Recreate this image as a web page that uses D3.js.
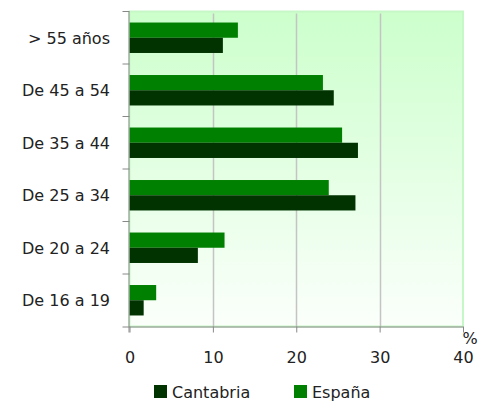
<!DOCTYPE html>
<html>
<head>
<meta charset="utf-8">
<script src="https://cdn.jsdelivr.net/npm/d3@7"></script>
<style>
  body { margin: 0; background: #fff; }
  text { font-family: "DejaVu Sans", sans-serif; fill: #222; }
</style>
</head>
<body>
<div class="container"></div>
<script>
var categories = ['> 55 años', 'De 45 a 54', 'De 35 a 44', 'De 25 a 34', 'De 20 a 24', 'De 16 a 19'];
var seriesNames = ['España', 'Cantabria'];
var espana = [13.0, 23.2, 25.5, 23.9, 11.4, 3.2];
var cantabria = [11.2, 24.5, 27.4, 27.1, 8.2, 1.7];
var xTicks = [0, 10, 20, 30, 40];

const WIDTH = 486;
const HEIGHT = 401;
const LEFT = 129.5;
const RIGHT = 463;
const TOP = 11.5;
const BOTTOM = 326.5;

var colors = { 'España': '#008000', 'Cantabria': '#003300' };

var svg = d3.select('.container').append('svg')
  .attr('width', WIDTH)
  .attr('height', HEIGHT);

var xScale = d3.scaleLinear().domain([0, 40]).range([LEFT, RIGHT]);
var yScale = d3.scaleBand().domain(categories).range([TOP, BOTTOM]).paddingInner(0.42).paddingOuter(0.21);
var inner = d3.scaleBand().domain(seriesNames).range([0, yScale.bandwidth()]);
var step = yScale.step();

// background gradient
var grad = svg.append('defs').append('linearGradient')
  .attr('id', 'bg').attr('x1', 0).attr('y1', 0).attr('x2', 0).attr('y2', 1);
grad.append('stop').attr('offset', '0%').attr('stop-color', '#ccffcc');
grad.append('stop').attr('offset', '100%').attr('stop-color', '#fbfffb');

svg.append('rect')
  .attr('x', LEFT).attr('y', TOP)
  .attr('width', RIGHT - LEFT).attr('height', BOTTOM - TOP)
  .attr('fill', 'url(#bg)')
  .attr('stroke', '#c6f7c6')
  .attr('stroke-width', 2);

// gridlines
svg.append('g').selectAll('line')
  .data(xTicks.filter(function (t) { return t > 0 && t < 40; }))
  .enter().append('line')
  .attr('x1', function (d) { return Math.round(xScale(d)) + 0.5; })
  .attr('x2', function (d) { return Math.round(xScale(d)) + 0.5; })
  .attr('y1', TOP + 2)
  .attr('y2', BOTTOM)
  .attr('stroke', '#c4c4c4')
  .attr('stroke-width', 1.5);

// bars
var rows = categories.map(function (c, i) {
  return { cat: c, values: [{ name: 'España', v: espana[i] }, { name: 'Cantabria', v: cantabria[i] }] };
});

var groups = svg.append('g').selectAll('g')
  .data(rows).enter().append('g')
  .attr('transform', function (d) { return 'translate(0,' + yScale(d.cat) + ')'; });

groups.selectAll('rect')
  .data(function (d) { return d.values; })
  .enter().append('rect')
  .attr('x', xScale(0))
  .attr('y', function (d) { return inner(d.name); })
  .attr('width', function (d) { return xScale(d.v) - xScale(0); })
  .attr('height', inner.bandwidth())
  .attr('fill', function (d) { return colors[d.name]; });

// axes
var xAxis = d3.axisBottom(xScale).tickValues(xTicks).tickSize(6).tickPadding(19);
var gx = svg.append('g')
  .attr('transform', 'translate(0,' + BOTTOM + ')')
  .call(xAxis);
gx.select('.domain').remove();
gx.selectAll('.tick line').attr('stroke', '#888');
gx.selectAll('.tick text').attr('font-size', 16).attr('fill', '#222');
gx.append('line')
  .attr('x1', LEFT - 7).attr('x2', RIGHT)
  .attr('y1', 0.5).attr('y2', 0.5)
  .attr('stroke', '#888');

var gy = svg.append('g');
gy.append('line')
  .attr('x1', LEFT - 0.5).attr('x2', LEFT - 0.5)
  .attr('y1', TOP).attr('y2', BOTTOM + 6)
  .attr('stroke', '#888');
gy.selectAll('.cattick')
  .data(d3.range(categories.length))
  .enter().append('line')
  .attr('x1', LEFT - 7).attr('x2', LEFT)
  .attr('y1', function (i) { return TOP + i * step; })
  .attr('y2', function (i) { return TOP + i * step; })
  .attr('stroke', '#888');
gy.selectAll('text')
  .data(categories)
  .enter().append('text')
  .attr('x', 110)
  .attr('y', function (d) { return yScale(d) + yScale.bandwidth() / 2; })
  .attr('dy', '0.36em')
  .attr('text-anchor', 'end')
  .attr('font-size', 16)
  .text(function (d) { return d; });

svg.append('text')
  .attr('x', 470).attr('y', 344)
  .attr('text-anchor', 'middle')
  .attr('font-size', 16)
  .text('%');

// legend
var legend = svg.append('g').selectAll('g')
  .data(['Cantabria', 'España'])
  .enter().append('g')
  .attr('transform', function (d, i) { return 'translate(' + (154 + i * 140) + ',385)'; });
legend.append('rect')
  .attr('width', 13).attr('height', 13)
  .attr('fill', function (d) { return colors[d]; });
legend.append('text')
  .attr('x', 18).attr('y', 12.5)
  .attr('font-size', 16)
  .text(function (d) { return d; });
</script>
</body>
</html>
